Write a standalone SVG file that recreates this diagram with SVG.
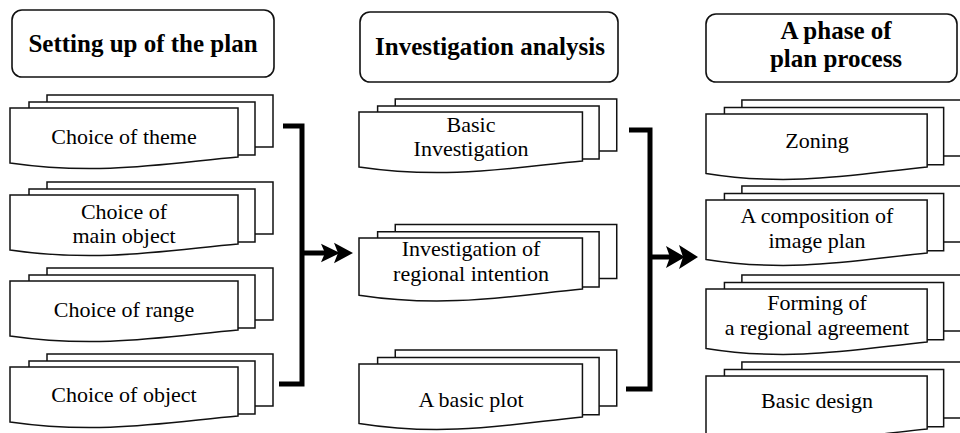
<svg xmlns="http://www.w3.org/2000/svg" xmlns:xlink="http://www.w3.org/1999/xlink" width="960" height="433" viewBox="0 0 960 433" font-family="Liberation Serif, DejaVu Serif, serif">
  <style>
    .sheet { fill: #ffffff; stroke: #111111; stroke-width: 1.5; vector-effect: non-scaling-stroke; }
    .title-box { fill: #ffffff; stroke: #111111; stroke-width: 1.6; }
    .title { font-family: 'Liberation Serif', 'DejaVu Serif', serif; font-weight: bold; font-size: 25px; fill: #000000; text-anchor: middle; }
    .label { font-family: 'Liberation Serif', 'DejaVu Serif', serif; font-size: 22px; fill: #000000; text-anchor: middle; }
    .bar { fill: none; stroke: #000000; stroke-width: 5; stroke-linecap: butt; stroke-linejoin: miter; }
    .head { fill: #000000; }
  </style>
  <defs>
    <!-- three stacked pages; front page at the origin, wavy lower edge -->
    <g id="stack">
      <rect class="sheet" x="37" y="-13" width="226" height="52"/>
      <rect class="sheet" x="19" y="-6" width="226" height="53"/>
      <path class="sheet" d="M0,0 H228 V49 C160,55 90,68 0,55 Z"/>
    </g>
    <!-- double arrowhead, tip at the origin pointing right -->
    <g id="dblhead">
      <path class="head" d="M-13,0 L-32,-11 L-28,0 L-32,11 Z"/>
      <path class="head" d="M0,0 L-19,-12 L-15,0 L-19,12 Z"/>
    </g>
  </defs>

  <!-- column headers -->
  <g id="hdr-setup">
    <rect class="title-box" x="12" y="10" width="262" height="67" rx="10"/>
    <text class="title" x="143" y="52">Setting up of the plan</text>
  </g>
  <g id="hdr-investigation">
    <rect class="title-box" x="360" y="12" width="258" height="70" rx="10"/>
    <text class="title" x="490" y="55">Investigation analysis</text>
  </g>
  <g id="hdr-phase">
    <rect class="title-box" x="706" y="14" width="251" height="68" rx="10"/>
    <text class="title" x="836" y="39">A phase of</text>
    <text class="title" x="836" y="67">plan process</text>
  </g>

  <!-- left column -->
  <g id="theme">
    <use xlink:href="#stack" href="#stack" transform="translate(10,108)"/>
    <text class="label" x="124" y="144">Choice of theme</text>
  </g>
  <g id="main-object">
    <use xlink:href="#stack" href="#stack" transform="translate(10,195)"/>
    <text class="label" x="124" y="219">Choice of</text>
    <text class="label" x="124" y="243">main object</text>
  </g>
  <g id="range">
    <use xlink:href="#stack" href="#stack" transform="translate(10,281)"/>
    <text class="label" x="124" y="317">Choice of range</text>
  </g>
  <g id="object">
    <use xlink:href="#stack" href="#stack" transform="translate(10,367)"/>
    <text class="label" x="124" y="402">Choice of object</text>
  </g>

  <!-- middle column -->
  <g id="basic-investigation">
    <use xlink:href="#stack" href="#stack" transform="translate(359,112) scale(0.98,1)"/>
    <text class="label" x="471" y="132">Basic</text>
    <text class="label" x="471" y="156">Investigation</text>
  </g>
  <g id="regional-intention">
    <use xlink:href="#stack" href="#stack" transform="translate(359,238) scale(0.98,1.04)"/>
    <text class="label" x="471" y="256">Investigation of</text>
    <text class="label" x="471" y="281">regional intention</text>
  </g>
  <g id="basic-plot">
    <use xlink:href="#stack" href="#stack" transform="translate(359,364) scale(0.98,1.08)"/>
    <text class="label" x="471" y="407">A basic plot</text>
  </g>

  <!-- right column -->
  <g id="zoning">
    <use xlink:href="#stack" href="#stack" transform="translate(706,114) scale(0.97,1.08)"/>
    <text class="label" x="817" y="148">Zoning</text>
  </g>
  <g id="image-plan">
    <use xlink:href="#stack" href="#stack" transform="translate(706,200) scale(0.97,1.08)"/>
    <text class="label" x="817" y="223">A composition of</text>
    <text class="label" x="817" y="248">image plan</text>
  </g>
  <g id="agreement">
    <use xlink:href="#stack" href="#stack" transform="translate(706,289) scale(0.97,1.08)"/>
    <text class="label" x="817" y="310">Forming of</text>
    <text class="label" x="817" y="335">a regional agreement</text>
  </g>
  <g id="basic-design">
    <use xlink:href="#stack" href="#stack" transform="translate(706,376) scale(0.97,1.08)"/>
    <text class="label" x="817" y="408">Basic design</text>
  </g>

  <!-- connectors: brackets gathering each column, arrows to the next -->
  <g id="connectors">
    <path class="bar" d="M283,126 H302 V384 H279"/>
    <path class="bar" d="M302,253 H325"/>
    <use xlink:href="#dblhead" href="#dblhead" transform="translate(353,253) scale(1,0.85)"/>
    <path class="bar" d="M629,130 H650 V389 H626"/>
    <path class="bar" d="M650,257 H672"/>
    <use xlink:href="#dblhead" href="#dblhead" transform="translate(698,257)"/>
  </g>
</svg>
